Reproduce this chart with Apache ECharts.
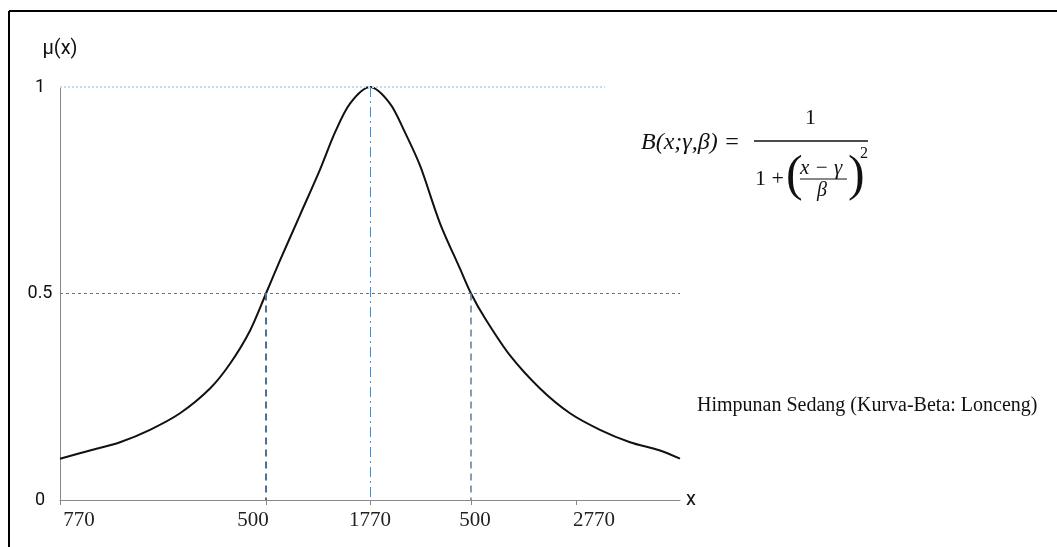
<!DOCTYPE html>
<html>
<head>
<meta charset="utf-8">
<script src="https://cdn.jsdelivr.net/npm/echarts@6/dist/echarts.min.js"></script>
<style>
  html, body { margin: 0; padding: 0; background: #fff; }
  #main { width: 1057px; height: 547px; }
</style>
</head>
<body>
<div id="main"></div>
<script>
var chartDom = document.getElementById('main');
var myChart = echarts.init(chartDom);
var option;

// curve points (x in drawing units, mu in 0..1)
let curveX = [0, 30, 60, 90, 120, 150, 170, 190, 206, 220, 240, 260, 275, 290, 310,
              330, 345, 360, 380, 400, 411, 425, 450, 480, 510, 540, 570, 600, 620];
let curveMu = [0.10, 0.12, 0.14, 0.17, 0.21, 0.27, 0.33, 0.41, 0.50, 0.58, 0.69, 0.80, 0.89, 0.96, 1.00,
               0.96, 0.89, 0.81, 0.67, 0.56, 0.50, 0.44, 0.35, 0.27, 0.21, 0.17, 0.14, 0.12, 0.10];

// x axis ticks and their labels
let tickX = [0, 206, 310, 411, 516];
let tickLabels = ['770', '500', '1770', '500', '2770'];
let labelShift = [19, -13, 0, 4, 18];

// reference lines
let peakX = 310, leftHalfX = 206, rightHalfX = 411;

let curve = curveX.map(function (x, i) { return [x, curveMu[i]]; });
let sans = '"Liberation Sans Narrow", Roboto, sans-serif';

function richKey(i) { return 'l' + i; }
let rich = {};
labelShift.forEach(function (s, i) {
  rich[richKey(i)] = {
    fontFamily: 'Liberation Serif',
    fontSize: 21,
    color: '#222',
    padding: s >= 0 ? [0, 0, 0, 2 * s] : [0, -2 * s, 0, 0]
  };
});

option = {
  animation: false,
  grid: { left: 60, top: 87, width: 620, height: 413 },
  xAxis: {
    type: 'value',
    min: 0,
    max: 620,
    name: 'x',
    nameLocation: 'end',
    nameGap: 6,
    nameTextStyle: { fontFamily: sans, fontSize: 20, color: '#111', verticalAlign: 'middle' },
    axisLine: { show: true, onZero: false, lineStyle: { color: '#888', width: 1 } },
    axisTick: { show: true, length: 5, lineStyle: { color: '#888' }, customValues: tickX },
    axisLabel: {
      margin: 10,
      customValues: tickX,
      formatter: function (v) {
        let i = tickX.indexOf(v);
        return i < 0 ? '' : '{' + richKey(i) + '|' + tickLabels[i] + '}';
      },
      rich: rich
    },
    splitLine: { show: false }
  },
  yAxis: {
    type: 'value',
    min: 0,
    max: 1,
    interval: 0.5,
    name: 'μ(x)',
    nameLocation: 'end',
    nameGap: 28,
    nameTextStyle: { fontFamily: sans, fontSize: 20, color: '#111' },
    axisLine: { show: true, lineStyle: { color: '#888', width: 1 } },
    axisTick: { show: false },
    axisLabel: { margin: 20, align: 'center', fontFamily: sans, fontSize: 18, color: '#111' },
    splitLine: { show: false }
  },
  series: [{
    type: 'line',
    data: curve,
    showSymbol: false,
    smooth: 0.3,
    lineStyle: { color: '#111', width: 2 },
    markLine: {
      silent: true,
      symbol: 'none',
      label: { show: false },
      data: [
        [{ coord: [0, 1], lineStyle: { color: '#c6daf0', type: [2, 2], width: 2 } }, { coord: [545, 1] }],
        [{ coord: [0, 0.5], lineStyle: { color: '#5b7a99', type: [3, 3], width: 1 } }, { coord: [620, 0.5] }],
        [{ coord: [leftHalfX, 0.5], lineStyle: { color: '#4d6f91', type: [7, 5], width: 2 } }, { coord: [leftHalfX, 0] }],
        [{ coord: [peakX, 1], lineStyle: { color: '#5b86ad', type: [10, 4, 2, 4], width: 1 } }, { coord: [peakX, 0] }],
        [{ coord: [rightHalfX, 0.5], lineStyle: { color: '#5b7fa3', type: [7, 5], width: 1.5 } }, { coord: [rightHalfX, 0] }]
      ]
    }
  }],
  graphic: [
    // frame
    { type: 'line', shape: { x1: 9, y1: 11, x2: 1057, y2: 11 }, style: { stroke: '#000', lineWidth: 2 } },
    { type: 'line', shape: { x1: 9, y1: 11, x2: 9, y2: 547 }, style: { stroke: '#000', lineWidth: 2 } },
    // formula
    { type: 'text', left: 641, top: 131, style: { text: 'B(x;γ,β) =', font: 'italic 24px "Liberation Serif"', fill: '#111' } },
    { type: 'text', left: 805, top: 107, style: { text: '1', font: '22px "Liberation Serif"', fill: '#111' } },
    { type: 'line', shape: { x1: 754, y1: 141, x2: 868, y2: 141 }, style: { stroke: '#111', lineWidth: 1.5 } },
    { type: 'text', left: 755, top: 168, style: { text: '1 +', font: '22px "Liberation Serif"', fill: '#111' } },
    { type: 'text', left: 786, top: 152, style: { text: '(', font: '50px "Liberation Serif"', fill: '#111' } },
    { type: 'text', left: 800, top: 158, style: { text: 'x − γ', font: 'italic 21px "Liberation Serif"', fill: '#111' } },
    { type: 'line', shape: { x1: 800, y1: 179, x2: 847, y2: 179 }, style: { stroke: '#111', lineWidth: 1 } },
    { type: 'text', left: 817, top: 181, style: { text: 'β', font: 'italic 20px "Liberation Serif"', fill: '#111' } },
    { type: 'text', left: 848, top: 152, style: { text: ')', font: '50px "Liberation Serif"', fill: '#111' } },
    { type: 'text', left: 860, top: 146, style: { text: '2', font: '16px "Liberation Serif"', fill: '#111' } },
    // caption
    { type: 'text', left: 697, top: 396, style: { text: 'Himpunan Sedang (Kurva-Beta: Lonceng)', font: '20px "Liberation Serif"', fill: '#111' } }
  ]
};

option && myChart.setOption(option);
</script>
</body>
</html>
